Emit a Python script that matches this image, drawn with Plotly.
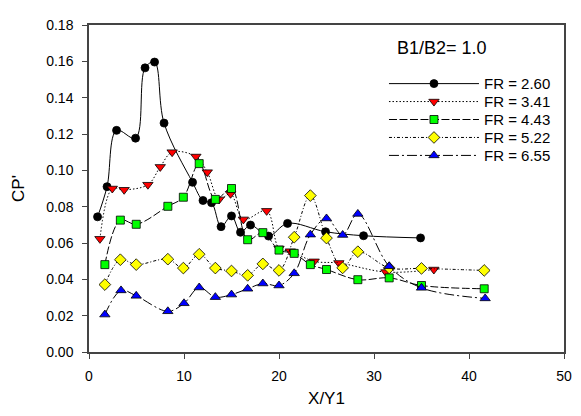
import plotly.graph_objects as go

# FR = 2.60
x_260 = [0.9, 1.9, 2.9, 4.9, 5.9, 6.9, 7.9, 10.9, 12.0, 12.9, 13.9, 15.0, 15.95, 17.0, 18.9, 20.9, 24.9, 28.9, 34.9]
y_260 = [0.0744, 0.091, 0.122, 0.1177, 0.1564, 0.1596, 0.126, 0.0934, 0.0834, 0.0822, 0.0690, 0.0749, 0.0659, 0.0699, 0.0638, 0.0708, 0.0662, 0.0640, 0.0628]

# FR = 3.41
x_341 = [1.15, 2.45, 3.7, 6.2, 7.5, 8.75, 11.25, 12.45, 13.7, 14.9, 16.25, 18.7, 20.0, 21.2, 23.7, 26.3, 31.25, 36.3]
y_341 = [0.0623, 0.090, 0.0893, 0.0921, 0.1019, 0.110, 0.1076, 0.099, 0.084, 0.0871, 0.073, 0.0777, 0.057, 0.0555, 0.0499, 0.049, 0.044, 0.0454]

# FR = 4.43
x_443 = [1.67, 3.3, 4.97, 8.3, 9.93, 11.6, 13.3, 15.0, 16.7, 18.3, 20.0, 21.6, 23.3, 25.0, 28.3, 31.6, 35.0, 41.6]
y_443 = [0.0481, 0.0726, 0.0703, 0.0802, 0.0852, 0.1037, 0.084, 0.090, 0.0618, 0.0657, 0.0561, 0.0543, 0.0481, 0.0454, 0.0398, 0.0408, 0.0366, 0.0348]

# FR = 5.22
x_522 = [1.67, 3.3, 4.97, 8.3, 9.93, 11.6, 13.3, 15.0, 16.7, 18.3, 20.0, 21.6, 23.3, 25.0, 26.7, 28.3, 31.6, 35.0, 41.6]
y_522 = [0.0371, 0.0508, 0.0481, 0.0511, 0.0462, 0.0538, 0.0462, 0.0446, 0.0422, 0.0485, 0.0449, 0.0632, 0.0861, 0.0627, 0.0463, 0.0552, 0.0463, 0.046, 0.0449]

# FR = 6.55
x_655 = [1.67, 3.37, 4.97, 8.3, 10.0, 11.6, 13.3, 15.0, 16.7, 18.3, 20.0, 21.6, 23.3, 25.0, 26.7, 28.3, 31.6, 35.0, 41.7]
y_655 = [0.0206, 0.0339, 0.0309, 0.0224, 0.0268, 0.0355, 0.0302, 0.0316, 0.0348, 0.0377, 0.0366, 0.0433, 0.0646, 0.0735, 0.0644, 0.076, 0.0472, 0.0353, 0.0295]

names = ["FR = 2.60", "FR = 3.41", "FR = 4.43", "FR = 5.22", "FR = 6.55"]
x_tick_vals = [0, 10, 20, 30, 40, 50]
y_tick_vals = [0.00, 0.02, 0.04, 0.06, 0.08, 0.10, 0.12, 0.14, 0.16, 0.18]

FONT = "Liberation Sans, Arial"

series = [
    (x_260, y_260, names[0], "circle", "black", "solid", 8),
    (x_341, y_341, names[1], "triangle-down", "#ff0000", "1.5px,2px", 9),
    (x_443, y_443, names[2], "square", "#00ff00", "8px,2.5px", 8),
    (x_522, y_522, names[3], "diamond", "#ffff00", "3px,2px,1px,2px", 9),
    (x_655, y_655, names[4], "triangle-up", "#0000ff", "10px,3px,2px,3px", 9),
]

fig = go.Figure()
legend_ids = ["legend", "legend2", "legend3", "legend4", "legend5"]
for i, (xs, ys, nm, sym, col, dash, msz) in enumerate(series):
    fig.add_trace(go.Scatter(
        x=xs, y=ys, name=nm, mode="lines+markers", legend=legend_ids[i],
        line=dict(color="black", width=1, dash=dash, shape="spline", smoothing=1.0),
        marker=dict(symbol=sym, color=col, size=msz,
                    line=dict(color="black", width=0.8)),
    ))

fig.add_annotation(
    x=0.743, y=0.931, xref="paper", yref="paper",
    text="B1/B2= 1.0", showarrow=False,
    font=dict(family=FONT, size=18, color="black"),
    xanchor="center", yanchor="middle",
)

legend_layout = {}
for i, lid in enumerate(legend_ids):
    legend_layout[lid] = dict(
        x=0.621, y=0.82 - i * 0.0549, xanchor="left", yanchor="middle",
        bgcolor="rgba(0,0,0,0)", borderwidth=0,
        font=dict(family=FONT, size=15, color="black"), itemwidth=90,
    )

fig.update_layout(
    width=573, height=408,
    margin=dict(l=74, r=9, t=9, b=64),
    paper_bgcolor="white", plot_bgcolor="white",
    font=dict(family=FONT, size=14, color="black"),
    showlegend=True,
    xaxis=dict(
        range=[0, 50], tickvals=x_tick_vals, ticks="outside", ticklen=5,
        ticklabelstandoff=5,
        showgrid=False, zeroline=False, showline=True, linecolor="#444",
        linewidth=1.5, mirror=True, title=dict(text="X/Y1", standoff=10),
    ),
    yaxis=dict(
        range=[0, 0.18], tickvals=y_tick_vals, tickformat=".2f", ticks="outside",
        ticklen=5, ticklabelstandoff=6,
        showgrid=False, zeroline=False, showline=True, linecolor="#444",
        linewidth=1.5, mirror=True, title=dict(text="CP'", standoff=17),
    ),
    **legend_layout,
)

fig.write_html("out.html")
